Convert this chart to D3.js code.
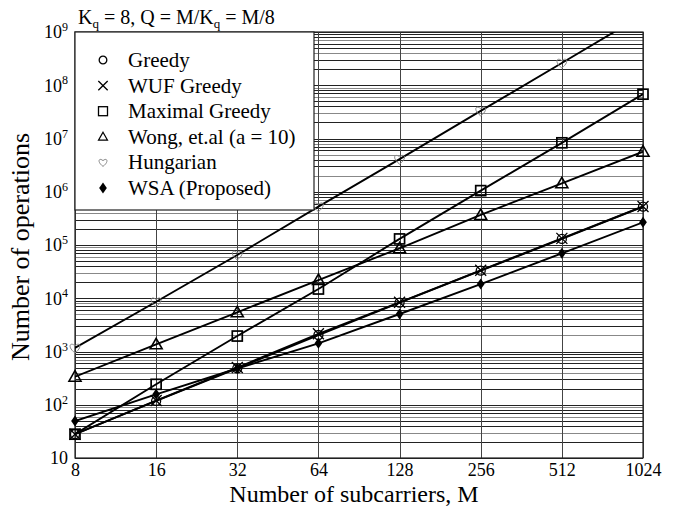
<!DOCTYPE html>
<html lang="en">
<head>
  <meta charset="UTF-8">
  <title>Number of operations vs subcarriers</title>
  <script src="https://d3js.org/d3.v7.min.js"></script>
  <style>
    body { margin: 0; background: #fff; }
    svg { font-family: "Liberation Serif", "Times New Roman", serif; }
  </style>
</head>
<body>
<div id="chart"></div>
<script>
  // data
  const subcarriers = [8, 16, 32, 64, 128, 256, 512, 1024];
  const greedy = [28, 118, 483, 2040, 8260, 33000, 130000, 524000];
  const wufGreedy = [28, 120, 500, 2150, 8400, 33500, 133000, 530000];
  const maximalGreedy = [28, 242, 1950, 14900, 130000, 1050000, 8300000, 68000000];
  const wong = [336, 1365, 5450, 22000, 86700, 366000, 1440000, 5650000];
  const hungarian = [1165, 8600, 65000, 525000, 4100000, 33000000, 262000000, 2100000000];
  const wsa = [49.5, 157, 480, 1425, 5060, 18500, 69800, 267000];
  const yTicks = [10, 1e2, 1e3, 1e4, 1e5, 1e6, 1e7, 1e8, 1e9];

  const series = [
    { name: "Greedy", values: greedy, sym: "circle" },
    { name: "WUF Greedy", values: wufGreedy, sym: "cross" },
    { name: "Maximal Greedy", values: maximalGreedy, sym: "square" },
    { name: "Wong, et.al (a = 10)", values: wong, sym: "triangle" },
    { name: "Hungarian", values: hungarian, sym: "heart" },
    { name: "WSA (Proposed)", values: wsa, sym: "diamond" }
  ];

  const W = 677, H = 508;
  const margin = { left: 75, right: 34, top: 32, bottom: 50 };
  const iw = W - margin.left - margin.right;
  const ih = H - margin.top - margin.bottom;

  const svg = d3.select("#chart").append("svg")
    .attr("width", W).attr("height", H);

  const x = d3.scaleLog().base(2).domain([8, 1024]).range([0, iw]);
  const y = d3.scaleLog().domain([10, 1e9]).range([ih, 0]);

  const g = svg.append("g").attr("transform", `translate(${margin.left},${margin.top})`);

  g.append("clipPath").attr("id", "clip")
    .append("rect").attr("width", iw).attr("height", ih);

  // minor horizontal grid
  const minor = [];
  for (let e = 1; e < 9; e++) {
    for (let k = 2; k <= 9; k++) minor.push(k * Math.pow(10, e));
  }
  g.append("g").selectAll("line").data(minor).join("line")
    .attr("x1", 0).attr("x2", iw)
    .attr("y1", d => Math.round(y(d)) + 0.5).attr("y2", d => Math.round(y(d)) + 0.5)
    .attr("stroke", (d, i) => i % 3 === 1 ? "#888" : "#222").attr("stroke-width", 1);

  g.append("g").selectAll("line").data(yTicks).join("line")
    .attr("x1", 0).attr("x2", iw)
    .attr("y1", d => Math.round(y(d)) + 0.5).attr("y2", d => Math.round(y(d)) + 0.5)
    .attr("stroke", "#222").attr("stroke-width", 1);

  g.append("g").selectAll("line").data(subcarriers).join("line")
    .attr("x1", d => Math.round(x(d)) + 0.5).attr("x2", d => Math.round(x(d)) + 0.5)
    .attr("y1", 0).attr("y2", ih)
    .attr("stroke", "#444").attr("stroke-width", 1);

  g.append("rect").attr("width", iw).attr("height", ih)
    .attr("fill", "none").attr("stroke", "#222").attr("stroke-width", 1.2);

  // axes (labels only)
  const xAxis = g.append("g").attr("transform", `translate(0,${ih})`)
    .call(d3.axisBottom(x).tickValues(subcarriers).tickFormat(d3.format("d")).tickSize(0).tickPadding(5));
  xAxis.select(".domain").remove();
  xAxis.selectAll("text").attr("font-size", 18).attr("fill", "#000")
    .attr("font-family", "Liberation Serif");

  const yAxis = g.append("g")
    .call(d3.axisLeft(y).tickValues(yTicks).tickFormat("").tickSize(0));
  yAxis.select(".domain").remove();
  yAxis.selectAll(".tick").each(function (d) {
    const t = d3.select(this).append("text")
      .attr("x", -7).attr("dy", "0.32em")
      .attr("text-anchor", "end").attr("fill", "#000")
      .attr("font-size", 18).attr("font-family", "Liberation Serif");
    const e = Math.round(Math.log10(d));
    if (e === 1) {
      t.text("10");
    } else {
      t.append("tspan").text("10");
      t.append("tspan").attr("font-size", 12).attr("dy", "-0.6em").text(e);
    }
  });

  // marker drawing
  function marker(sel, sym, big) {
    const s = big ? 1 : 0.85;
    if (sym === "circle") {
      sel.append("circle").attr("r", 4.5 * s).attr("fill", "none").attr("stroke", "#000").attr("stroke-width", 1.3);
    } else if (sym === "cross") {
      const a = 5.5 * s;
      sel.append("path").attr("d", `M${-a},${-a}L${a},${a}M${-a},${a}L${a},${-a}`)
        .attr("stroke", "#000").attr("stroke-width", 1.3).attr("fill", "none");
    } else if (sym === "square") {
      const a = (big ? 5 : 4.5);
      sel.append("rect").attr("x", -a).attr("y", -a).attr("width", 2 * a).attr("height", 2 * a)
        .attr("fill", "none").attr("stroke", "#000").attr("stroke-width", big ? 1.7 : 1.3);
    } else if (sym === "triangle") {
      const a = (big ? 6 : 4.5);
      sel.append("path").attr("d", `M0,${-a}L${a},${a * 0.75}L${-a},${a * 0.75}Z`)
        .attr("fill", "none").attr("stroke", "#000").attr("stroke-width", big ? 1.6 : 1.2);
    } else if (sym === "heart") {
      const a = big ? 5 : 4;
      sel.append("path")
        .attr("d", `M0,${a}C${-a * 1.6},${-a * 0.2} ${-a},${-a * 1.3} 0,${-a * 0.45}C${a},${-a * 1.3} ${a * 1.6},${-a * 0.2} 0,${a}Z`)
        .attr("fill", "none").attr("stroke", "#888").attr("stroke-width", 1);
    } else if (sym === "diamond") {
      const a = 5.5;
      sel.append("path").attr("d", `M0,${-a}L${a * 0.7},0L0,${a}L${-a * 0.7},0Z`).attr("fill", "#000");
    }
  }

  const line = d3.line().x((d, i) => x(subcarriers[i])).y(d => y(d));
  const plot = g.append("g").attr("clip-path", "url(#clip)");

  series.forEach(s => {
    plot.append("path").attr("d", line(s.values))
      .attr("fill", "none").attr("stroke", "#000").attr("stroke-width", 1.9);
  });
  series.forEach(s => {
    s.values.forEach((v, i) => {
      if (v > 1e9) return;
      const m = g.append("g").attr("transform", `translate(${x(subcarriers[i])},${y(v)})`);
      marker(m, s.sym, true);
    });
  });

  // legend
  const lg = g.append("g");
  lg.append("rect").attr("x", 0).attr("y", 0).attr("width", 239).attr("height", 178)
    .attr("fill", "#fff").attr("stroke", "#222").attr("stroke-width", 1.2);
  series.forEach((s, i) => {
    const row = lg.append("g").attr("transform", `translate(28,${28 + i * 25.6})`);
    marker(row, s.sym, false);
    row.append("text").attr("x", 25).attr("dy", "0.33em")
      .attr("font-size", 21).attr("fill", "#000").text(s.name);
  });

  // title
  const title = svg.append("text").attr("x", 78).attr("y", 24).attr("font-size", 20).attr("fill", "#000");
  title.append("tspan").text("K");
  title.append("tspan").attr("font-size", 13).attr("dy", 4).text("q");
  title.append("tspan").attr("dy", -4).text(" = 8, Q = M/K");
  title.append("tspan").attr("font-size", 13).attr("dy", 4).text("q");
  title.append("tspan").attr("dy", -4).text(" = M/8");

  // axis titles
  svg.append("text").attr("x", margin.left + iw / 2 - 5).attr("y", 502)
    .attr("text-anchor", "middle").attr("font-size", 24).attr("fill", "#000")
    .text("Number of subcarriers, M");
  svg.append("text")
    .attr("transform", `translate(29,${margin.top + ih / 2 + 2}) rotate(-90)`)
    .attr("text-anchor", "middle").attr("font-size", 26).attr("fill", "#000")
    .text("Number of operations");
</script>
</body>
</html>
